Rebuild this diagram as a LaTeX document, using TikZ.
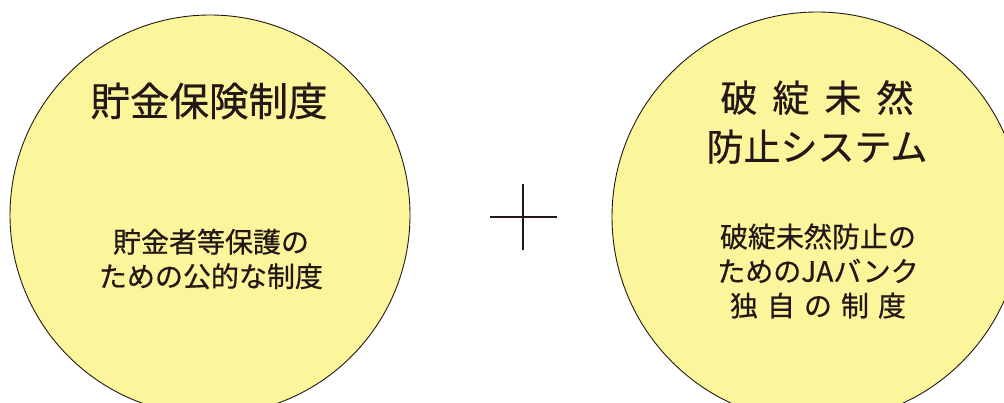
\documentclass[tikz,border=0pt]{standalone}
\usepackage{fontspec}
\setmainfont{Noto Sans CJK JP}[FakeBold=0.6]
\definecolor{circfill}{HTML}{FBF59C}
\definecolor{ink}{HTML}{231815}
\begin{document}
\begin{tikzpicture}[x=1pt,y=-1pt,
  circ/.style={draw=ink,line width=0.9pt,fill=circfill},
  ttl/.style={text=ink,font=\fontsize{37}{49}\selectfont,align=center,inner sep=0},
  sub/.style={text=ink,font=\fontsize{28}{34.5}\selectfont,align=center,inner sep=0},
  plusline/.style={draw=ink,line width=1.6pt}]
\useasboundingbox (0,0) rectangle (1004,403);
\begin{scope}
\clip (0,0) rectangle (1004,403);
\node[circ,circle,minimum size=400pt,inner sep=0] (left) at (210,215) {};
\node[circ,circle,minimum size=410pt,inner sep=0] (right) at (817,217) {};
\end{scope}
\node[ttl,font=\fontsize{39.5}{49}\selectfont] (lt) at (209,101) {貯金保険制度};
\node[sub] (ls) at (211,259) {貯金者等保護の\\ための公的な制度};
\node[ttl] (rt) at (817,122) {破\hspace{15pt}綻\hspace{15pt}未\hspace{15pt}然\\防止システム};
\node[sub] (rs) at (818,271) {破綻未然防止の\\ためのJAバンク\\独\hspace{9pt}自\hspace{9pt}の\hspace{9pt}制\hspace{9pt}度};
\coordinate (pt) at (523,184);
\coordinate (pb) at (523,250);
\coordinate (pl) at (490,217);
\coordinate (pr) at (557,217);
\draw[plusline] (pt) -- (pb);
\draw[plusline] (pl) -- (pr);
\end{tikzpicture}
\end{document}
